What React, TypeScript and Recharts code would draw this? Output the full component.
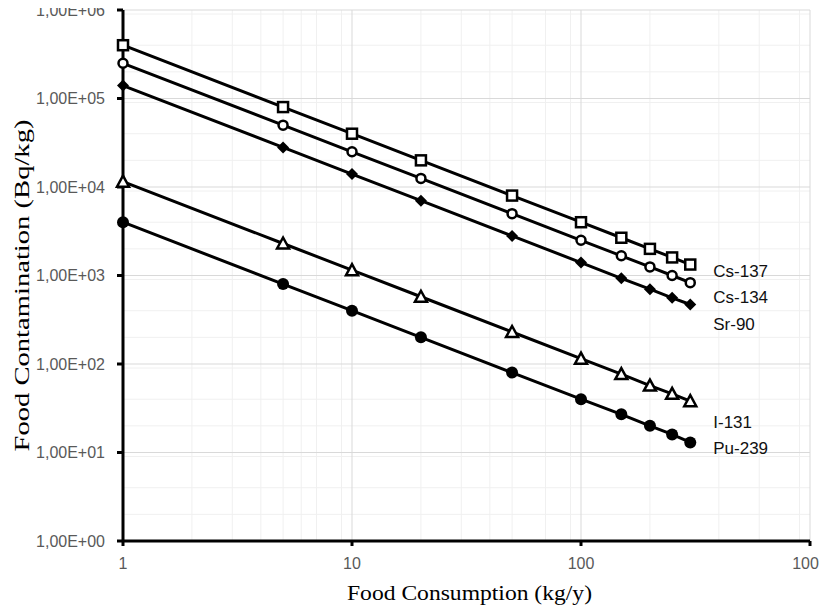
import { CartesianGrid, Line, LineChart, XAxis, YAxis } from 'recharts'

const consumption = [1, 5, 10, 20, 50, 100, 150, 200, 250, 300]

const cs137 = [400000, 80000, 40000, 20000, 8000, 4000, 2670, 2000, 1600, 1330]
const cs134 = [250000, 50000, 25000, 12500, 5000, 2500, 1670, 1250, 1000, 830]
const sr90 = [140000, 28000, 14000, 7000, 2800, 1400, 930, 700, 560, 470]
const i131 = [11500, 2300, 1150, 575, 230, 115, 77, 57, 46, 38]
const pu239 = [4000, 800, 400, 200, 80, 40, 27, 20, 16, 13]

const xTicks = [1, 10, 100, 1000]
const yTicks = [1, 10, 100, 1000, 10000, 100000, 1000000]

const data = consumption.map((x, i) => ({
  x,
  cs137: cs137[i],
  cs134: cs134[i],
  sr90: sr90[i],
  i131: i131[i],
  pu239: pu239[i]
}))

const minorX = [1, 10, 100].flatMap((d) => [2, 3, 4, 5, 6, 7, 8, 9].map((m) => m * d))
const minorY = [1, 10, 100, 1000, 10000, 100000].flatMap((d) =>
  [2, 3, 4, 5, 6, 7, 8, 9].map((m) => m * d)
)

const fmtY = (v: number) => {
  const e = Math.round(Math.log10(v))
  return `1,00E+${String(e).padStart(2, '0')}`
}

const Square = ({ cx, cy }: any) => (
  <rect x={cx - 5} y={cy - 5} width={10} height={10} fill="#fff" stroke="#000" strokeWidth={2.5} />
)
const OpenCircle = ({ cx, cy }: any) => (
  <circle cx={cx} cy={cy} r={4.5} fill="#fff" stroke="#000" strokeWidth={2.5} />
)
const Diamond = ({ cx, cy }: any) => (
  <path d={`M${cx},${cy - 6} L${cx + 6},${cy} L${cx},${cy + 6} L${cx - 6},${cy} Z`} fill="#000" />
)
const Triangle = ({ cx, cy }: any) => (
  <path
    d={`M${cx},${cy - 6} L${cx + 6},${cy + 5} L${cx - 6},${cy + 5} Z`}
    fill="#fff"
    stroke="#000"
    strokeWidth={2.5}
  />
)
const FilledCircle = ({ cx, cy }: any) => <circle cx={cx} cy={cy} r={6} fill="#000" />

const endLabel = (name: string, dy: number) => (props: any) => {
  if (props.index !== consumption.length - 1) return null
  return (
    <text
      x={props.x + 23}
      y={props.y + dy}
      dominantBaseline="central"
      fontFamily="Liberation Sans, Arial, sans-serif"
      fontSize={17}
      fill="#111">
      {name}
    </text>
  )
}

const series = [
  { key: 'cs137', name: 'Cs-137', shape: Square, dy: 7 },
  { key: 'cs134', name: 'Cs-134', shape: OpenCircle, dy: 15 },
  { key: 'sr90', name: 'Sr-90', shape: Diamond, dy: 20 },
  { key: 'i131', name: 'I-131', shape: Triangle, dy: 21 },
  { key: 'pu239', name: 'Pu-239', shape: FilledCircle, dy: 6 }
]

const tickStyle = { fontFamily: 'Liberation Sans, Arial, sans-serif', fontSize: 16, fill: '#595959' }

export default function App() {
  return (
    <div style={{ margin: -8, width: 827, height: 613, background: '#fff' }}>
      <LineChart width={827} height={613} data={data} margin={{ top: 10, right: 17, left: 0, bottom: 0 }}>
        <CartesianGrid
          stroke="#f0f0f0"
          strokeWidth={1}
          verticalValues={minorX}
          horizontalValues={minorY}
        />
        <CartesianGrid
          stroke="#d9d9d9"
          strokeWidth={1}
          verticalValues={xTicks}
          horizontalValues={yTicks}
        />
        <XAxis
          dataKey="x"
          type="number"
          scale="log"
          domain={[1, 1000]}
          ticks={xTicks}
          height={72}
          axisLine={{ stroke: '#000', strokeWidth: 3 }}
          tickLine={{ stroke: '#000', strokeWidth: 3 }}
          tickSize={5}
          tickMargin={12}
          tick={tickStyle}
          label={({ viewBox }: any) => (
            <text
              x={viewBox.x + viewBox.width / 2 + 3}
              y={viewBox.y + 59}
              textAnchor="middle"
              fontFamily="Liberation Serif, Times New Roman, serif"
              fontSize={21}
              textLength={245}
              lengthAdjust="spacingAndGlyphs"
              fill="#000">
              Food Consumption (kg/y)
            </text>
          )}
        />
        <YAxis
          type="number"
          scale="log"
          domain={[1, 1000000]}
          ticks={yTicks}
          width={123}
          axisLine={{ stroke: '#000', strokeWidth: 3 }}
          tickLine={{ stroke: '#000', strokeWidth: 3 }}
          tickSize={6}
          tickMargin={12}
          tick={tickStyle}
          tickFormatter={fmtY}
          label={({ viewBox }: any) => {
            const cx = viewBox.x + 21
            const cy = viewBox.y + viewBox.height / 2 + 10
            return (
              <text
                x={cx}
                y={cy}
                transform={`rotate(-90 ${cx} ${cy})`}
                textAnchor="middle"
                dominantBaseline="central"
                fontFamily="Liberation Serif, Times New Roman, serif"
                fontSize={22}
                textLength={332}
                lengthAdjust="spacingAndGlyphs"
                fill="#000">
                Food Contamination (Bq/kg)
              </text>
            )
          }}
        />
        {series.map((s) => (
          <Line
            key={s.key}
            dataKey={s.key}
            type="linear"
            stroke="#000"
            strokeWidth={3}
            dot={s.shape}
            activeDot={false}
            isAnimationActive={false}
            label={endLabel(s.name, s.dy)}
          />
        ))}
      </LineChart>
    </div>
  )
}
